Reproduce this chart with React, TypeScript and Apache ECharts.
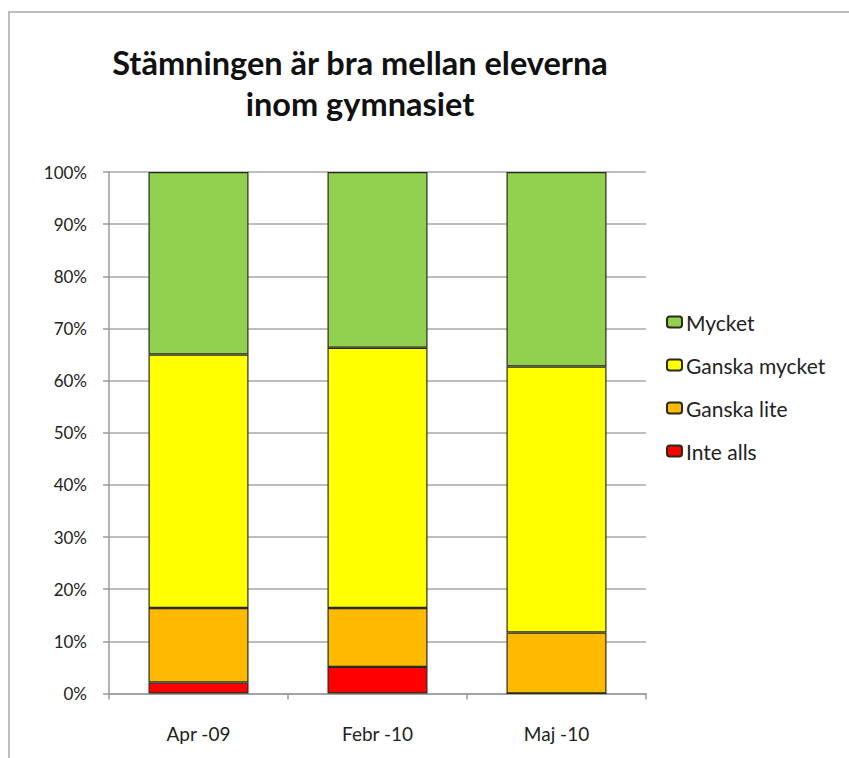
import React, { useEffect, useRef } from "react";
import * as echarts from "echarts";

const categories = ["Apr -09", "Febr -10", "Maj -10"];
const inteAlls = [2.1, 5.1, 0];
const ganskaLite = [14.3, 11.3, 11.7];
const ganskaMycket = [48.6, 49.9, 51.0];
const mycket = [35.0, 33.7, 37.3];
const legendOrder = ["Mycket", "Ganska mycket", "Ganska lite", "Inte alls"];

const FONT = "Lato, 'Open Sans', sans-serif";

export default function App() {
  const ref = useRef<HTMLDivElement>(null);
  useEffect(() => {
    if (!ref.current) return;
    const chart = echarts.init(ref.current, null, { renderer: "svg" });
    const barStyle = (color: string) => ({
      color,
      borderColor: "#2a2a1a",
      borderWidth: 1.2,
    });
    const mk = (name: string, data: number[], color: string) => ({
      name,
      type: "bar",
      stack: "total",
      data,
      barWidth: 100,
      itemStyle: barStyle(color),
      emphasis: { disabled: true },
    });
    chart.setOption({
      animation: false,
      textStyle: { fontFamily: FONT },
      title: {
        text: "Stämningen är bra mellan eleverna\ninom gymnasiet",
        left: 355,
        top: 37,
        textAlign: "center",
        textStyle: {
          fontFamily: FONT,
          fontWeight: "bold",
          fontSize: 32.5,
          lineHeight: 41,
          color: "#111",
        },
      },
      graphic: [
        {
          type: "rect",
          shape: { x: 9, y: 12, width: 900, height: 800 },
          style: { fill: "none", stroke: "#bdbdbd", lineWidth: 2 },
          silent: true,
        },
      ],
      legend: {
        orient: "vertical",
        left: 661,
        top: 305,
        itemWidth: 15,
        itemHeight: 11,
        itemGap: 19,
        data: legendOrder,
        textStyle: {
          fontFamily: FONT,
          fontSize: 21,
          lineHeight: 24,
          color: "#222",
          padding: [0, 0, 0, -1],
        },
      },
      grid: {
        left: 109,
        right: 203,
        top: 172,
        bottom: 64.5,
      },
      xAxis: {
        type: "category",
        data: categories,
        axisLine: { lineStyle: { color: "#9a9a9a", width: 1.5 } },
        axisTick: { show: true, length: 6, lineStyle: { color: "#9a9a9a", width: 1.5 } },
        axisLabel: { margin: 30, fontSize: 19, color: "#222", fontFamily: FONT },
      },
      yAxis: {
        type: "value",
        min: 0,
        max: 100,
        interval: 10,
        axisLine: { show: true, lineStyle: { color: "#9a9a9a", width: 1.5 } },
        axisTick: { show: true, length: 6, lineStyle: { color: "#9a9a9a", width: 1.5 } },
        splitLine: { lineStyle: { color: "#a8a8a8", width: 1.5 } },
        axisLabel: { formatter: "{value}%", margin: 22, fontSize: 17, color: "#222", fontFamily: FONT },
      },
      series: [
        mk("Inte alls", inteAlls, "#FF0000"),
        mk("Ganska lite", ganskaLite, "#FFBA00"),
        mk("Ganska mycket", ganskaMycket, "#FFFF00"),
        mk("Mycket", mycket, "#92D050"),
      ],
    });
    return () => chart.dispose();
  }, []);
  return (
    <div
      ref={ref}
      style={{ position: "fixed", left: 0, top: 0, width: 849, height: 758, background: "#fff" }}
    />
  );
}
